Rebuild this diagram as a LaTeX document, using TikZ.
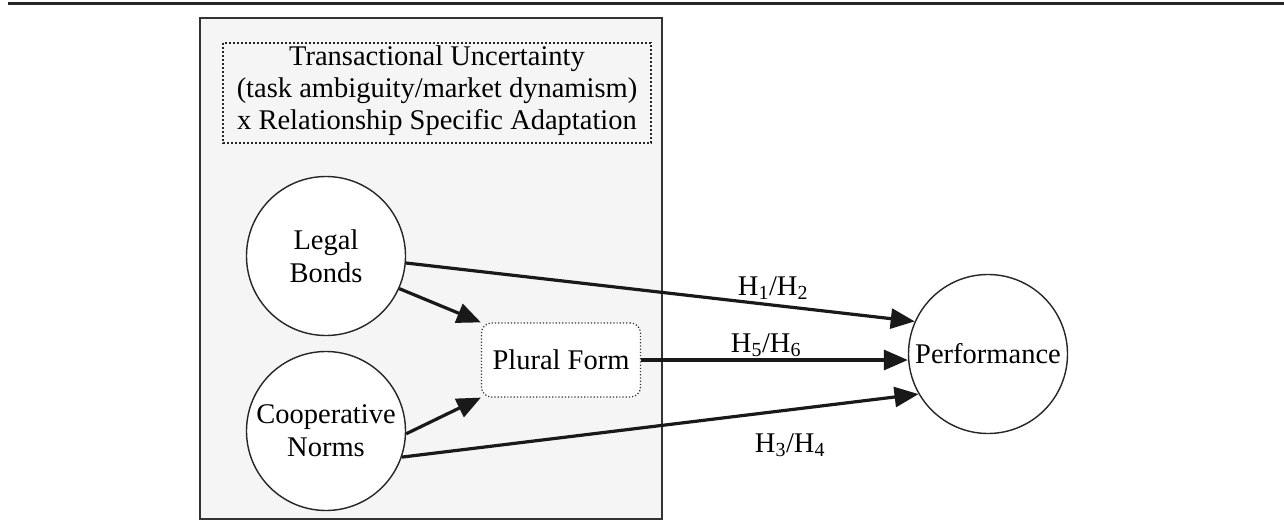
\documentclass[tikz,border=0pt]{standalone}
\usepackage{fontspec}
\setmainfont{Liberation Serif}
\usetikzlibrary{arrows.meta}
\begin{document}
\begin{tikzpicture}[x=1pt,y=-1pt,
  every node/.style={font=\fontsize{28.5}{33}\selectfont},
  circ/.style={circle,draw=black!85,line width=1.4pt,fill=white,minimum size=159pt,inner sep=0pt,align=center},
  pfbox/.style={rectangle,rounded corners=10pt,draw=black!80,dotted,line width=1.2pt,fill=white,minimum width=159pt,minimum height=74pt,inner sep=0pt},
  arr/.style={line width=3.2pt,black!90,-{Triangle[length=24pt,width=20pt]}},
  lbl/.style={anchor=base,inner sep=0pt}
]
\useasboundingbox (0,0) rectangle (1284,527);
% top rule
\draw[line width=3.5pt,black!85] (8,3.5) -- (1284,3.5);
% outer box
\draw[line width=1.8pt,black!80,fill=black!4] (200,18) rectangle (662,519);
% dotted inner box
\draw[black!85,dotted,line width=2pt] (223,43) rectangle (651,143);
\node[align=center,inner sep=0pt,font=\fontsize{28.5}{32}\selectfont] (tu) at (437,91) {Transactional Uncertainty\\(task ambiguity/market dynamism)\\x Relationship Specific Adaptation};
% nodes
\node[circ] (lb) at (326,256) {Legal\\Bonds};
\node[circ] (cn) at (326,431) {Cooperative\\Norms};
\node[pfbox] (pf) at (561,360) {};
\node (pft) at (561,360) {Plural Form};
\node[circ] (perf) at (988,354) {Performance};
% arrows
\draw[arr] (lb.-5) -- (perf.156);
\draw[arr] (lb.-24) -- (pf.north west);
\draw[arr] (cn.-2) -- (pf.south west);
\draw[arr] (cn.-19) -- (perf.210);
\draw[arr] (pf.east) -- (perf.west |- pf.east);
% labels
\node[lbl] (h12) at (773,295) {H\textsubscript{1}/H\textsubscript{2}};
\node[lbl] (h56) at (766,352) {H\textsubscript{5}/H\textsubscript{6}};
\node[lbl] (h34) at (790,452) {H\textsubscript{3}/H\textsubscript{4}};
\end{tikzpicture}
\end{document}
